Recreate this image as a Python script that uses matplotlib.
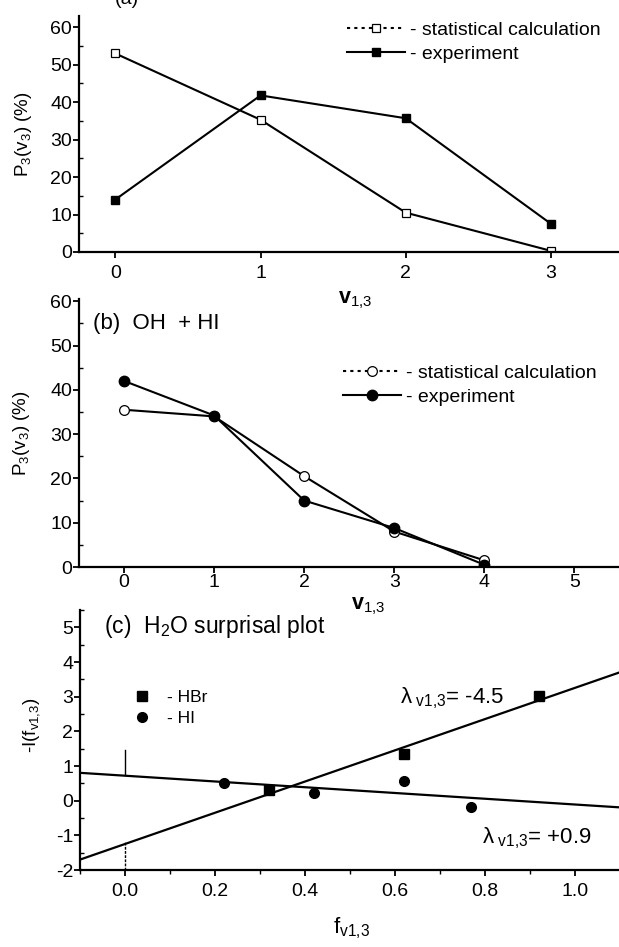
import matplotlib
matplotlib.use("Agg")
import matplotlib.pyplot as plt
from matplotlib.lines import Line2D
from matplotlib.ticker import MultipleLocator

plt.rcParams['font.family'] = ['Liberation Sans', 'DejaVu Sans']
plt.rcParams['mathtext.fontset'] = 'custom'
plt.rcParams['mathtext.rm'] = 'Liberation Sans'
plt.rcParams['mathtext.it'] = 'Liberation Sans:italic'
plt.rcParams['mathtext.bf'] = 'Liberation Sans:bold'
plt.rcParams['mathtext.default'] = 'rm'
plt.rcParams['axes.unicode_minus'] = False

# ---- data ----
a_v = [0, 1, 2, 3]
a_stat = [53.0, 35.3, 10.5, 0.3]
a_exp = [14.0, 41.8, 35.7, 7.5]

b_v = [0, 1, 2, 3, 4]
b_stat = [35.5, 34.0, 20.5, 8.0, 1.5]
b_exp = [42.0, 34.2, 15.0, 8.8, 0.5]

c_hbr_f = [0.32, 0.62, 0.92]
c_hbr_I = [0.30, 1.35, 3.02]
c_hi_f = [0.22, 0.42, 0.62, 0.77]
c_hi_I = [0.52, 0.22, 0.58, -0.17]

fit_hbr = (-1.25, 4.5)    # intercept, slope
fit_hi = (0.72, -0.83)

W, H = 619, 947
fig = plt.figure(figsize=(W / 100, H / 100), dpi=100)

def ax_px(left, top, right, bottom):
    ax = fig.add_axes([left / W, 1 - bottom / H, (right - left) / W, (bottom - top) / H])
    ax.patch.set_visible(False)
    return ax

FS = 14

def style(ax, xpad):
    for s in ('top', 'right'):
        ax.spines[s].set_visible(False)
    for s in ('left', 'bottom'):
        ax.spines[s].set_linewidth(1.6)
    ax.tick_params(axis='both', which='major', direction='out', length=4, width=1.3, labelsize=FS, pad=1)
    ax.tick_params(axis='x', which='major', pad=xpad)
    ax.tick_params(axis='y', which='minor', direction='in', length=3, width=1.0)
    ax.tick_params(axis='x', which='minor', direction='out', length=3, width=1.0)

VLAB = r'$\mathbf{v}_{1{,}3}$'

# ---- panel a ----
axa = ax_px(79, 16, 660, 252)
axa.plot(a_v, a_stat, '-', color='black', lw=1.5, marker='s', ms=6, mfc='white', mec='black', mew=0.9)
axa.plot(a_v, a_exp, '-', color='black', lw=1.5, marker='s', ms=6, mfc='black', mec='black')
axa.set_xlim(-0.25, 3.75)
axa.set_ylim(0, 63)
axa.set_xticks([0, 1, 2, 3])
axa.set_yticks([0, 10, 20, 30, 40, 50, 60])
axa.yaxis.set_minor_locator(MultipleLocator(5))
style(axa, 5)
axa.set_ylabel(r'P$_3$(v$_3$) (%)', fontsize=13.5, labelpad=12)
axa.set_xlabel(VLAB, fontsize=FS + 1.5, labelpad=6, x=(355 - 79) / (660 - 79))
h1 = [Line2D([], [], ls=(0, (1.5, 2)), color='black', lw=1.5, marker='s', ms=6, mfc='white', mec='black', mew=0.9),
      Line2D([], [], ls='-', color='black', lw=1.5, marker='s', ms=6, mfc='black', mec='black')]
axa.legend(h1, ['- statistical calculation', '- experiment'], loc='upper left',
           bbox_to_anchor=(329 / W, 1 - 4 / H), bbox_transform=fig.transFigure,
           frameon=False, fontsize=FS, handlelength=3.0, handletextpad=0.25, labelspacing=0.3)
fig.text(115 / W, 1 - 4 / H, '(a)', fontsize=FS, va='baseline', ha='left')

# ---- panel b ----
axb = ax_px(79, 299, 660, 567)
axb.plot(b_v, b_stat, '-', color='black', lw=1.5, marker='o', ms=7, mfc='white', mec='black', mew=0.9)
axb.plot(b_v, b_exp, '-', color='black', lw=1.5, marker='o', ms=7.5, mfc='black', mec='black')
axb.set_xlim(-0.5, 5.95)
axb.set_ylim(0, 60.5)
axb.set_xticks([0, 1, 2, 3, 4, 5])
axb.set_yticks([0, 10, 20, 30, 40, 50, 60])
axb.yaxis.set_minor_locator(MultipleLocator(5))
style(axb, 1)
axb.set_ylabel(r'P$_3$(v$_3$) (%)', fontsize=13.5, labelpad=13)
axb.set_xlabel(VLAB, fontsize=FS + 1.5, labelpad=3, x=(368 - 79) / (660 - 79))
h2 = [Line2D([], [], ls=(0, (1.5, 2)), color='black', lw=1.5, marker='o', ms=7, mfc='white', mec='black', mew=0.9),
      Line2D([], [], ls='-', color='black', lw=1.5, marker='o', ms=7.5, mfc='black', mec='black')]
axb.legend(h2, ['- statistical calculation', '- experiment'], loc='upper left',
           bbox_to_anchor=(325 / W, 1 - 347 / H), bbox_transform=fig.transFigure,
           frameon=False, fontsize=FS, handlelength=3.0, handletextpad=0.25, labelspacing=0.3)
fig.text(93 / W, 1 - 324 / H, '(b)  OH  + HI', fontsize=16, va='center', ha='left')

# ---- panel c ----
axc = ax_px(80, 610, 660, 870)
axc.axline((0, fit_hbr[0]), slope=fit_hbr[1], color='black', lw=1.6)
axc.axline((0, fit_hi[0]), slope=fit_hi[1], color='black', lw=1.6)
axc.plot(c_hbr_f, c_hbr_I, 's', color='black', ms=6.5)
axc.plot(c_hi_f, c_hi_I, 'o', color='black', ms=7)
axc.plot([0, 0], [0.75, 1.45], color='black', lw=1.0)
axc.plot([0, 0], [-2, -1.2], color='black', lw=1.0, ls=(0, (2, 1)))
axc.set_xlim(-0.1, 1.19)
axc.set_ylim(-2, 5.5)
axc.set_xticks([0.0, 0.2, 0.4, 0.6, 0.8, 1.0])
axc.xaxis.set_minor_locator(MultipleLocator(0.1))
axc.set_yticks([-2, -1, 0, 1, 2, 3, 4, 5])
axc.yaxis.set_minor_locator(MultipleLocator(0.5))
style(axc, 5)
axc.set_ylabel(r'-I(f$_{v1{,}3}$)', fontsize=13.5)
axc.yaxis.set_label_coords(-0.066, (870 - 725) / 260)
axc.set_xlabel(r'f$_{v1{,}3}$', fontsize=FS + 2)
axc.xaxis.set_label_coords((352 - 80) / (660 - 80), -(928 - 870) / 260)
axc.xaxis.label.set_va('center')
h3 = [Line2D([], [], ls='none', color='black', marker='s', ms=6.5),
      Line2D([], [], ls='none', color='black', marker='o', ms=7)]
axc.legend(h3, ['- HBr', '- HI'], loc='upper left',
           bbox_to_anchor=(118 / W, 1 - 674 / H), bbox_transform=fig.transFigure,
           frameon=False, fontsize=12.5, handlelength=1.0, handletextpad=0.9, labelspacing=0.35)
fig.text(104 / W, 1 - 627 / H, r'(c)  H$_2$O surprisal plot', fontsize=16.5, va='center', ha='left')
fig.text(400 / W, 1 - 698 / H, r'$\lambda_{\ \mathrm{v1{,}3}}$= -4.5', fontsize=16, va='center', ha='left')
fig.text(482 / W, 1 - 838 / H, r'$\lambda_{\ \mathrm{v1{,}3}}$= +0.9', fontsize=16, va='center', ha='left')

fig.savefig('out.png', dpi=100)
